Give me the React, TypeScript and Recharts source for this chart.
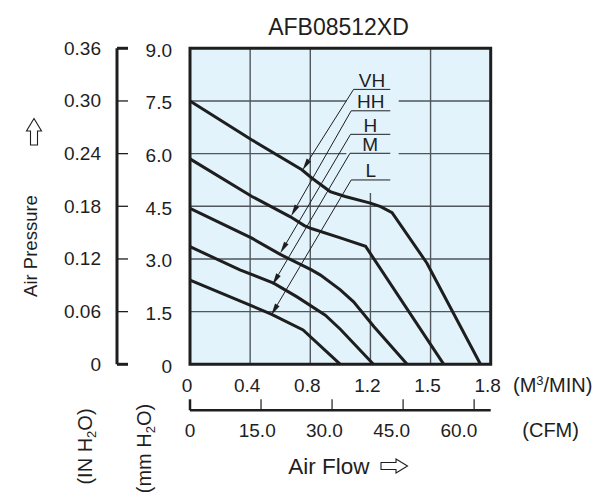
import React from 'react';
import { LineChart, Line, XAxis, YAxis, CartesianGrid, ReferenceArea, ReferenceLine } from 'recharts';

// x is the position along the M3/MIN scale in grid steps (0 .. 5), y is mm H2O
const curveVH: [number, number][] = [
  [0, 7.5], [1.03, 6.39], [1.86, 5.54], [2.03, 5.3], [2.33, 4.92], [2.58, 4.78],
  [3.0, 4.59], [3.17, 4.49], [3.36, 4.32], [3.94, 2.88], [4.83, 0],
];
const curveHH: [number, number][] = [
  [0, 5.85], [1.03, 4.78], [1.67, 4.2], [1.9, 3.95], [2.03, 3.86], [2.5, 3.6],
  [2.92, 3.36], [4.22, 0],
];
const curveH: [number, number][] = [
  [0, 4.44], [1.02, 3.6], [1.5, 3.13], [2.02, 2.69], [2.17, 2.54], [2.5, 2.12],
  [2.72, 1.78], [3.06, 1.07], [3.61, 0],
];
const curveM: [number, number][] = [
  [0, 3.35], [0.83, 2.69], [1.39, 2.31], [1.78, 1.92], [2.25, 1.4], [2.5, 1.0], [3.05, 0],
];
const curveL: [number, number][] = [
  [0, 2.4], [1.35, 1.43], [1.88, 0.98], [2.5, 0],
];
const curves = [curveVH, curveHH, curveH, curveM, curveL];

const flowTicks = [0, 1, 2, 3, 4, 5];
const flowLabels = ['0', '0.4', '0.8', '1.2', '1.5', '1.8'];
const cfmTicks = [0, 15, 30, 45, 60];
const cfmLabels = ['0', '15.0', '30.0', '45.0', '60.0'];
const mmTicks = [0, 1.5, 3, 4.5, 6, 7.5, 9];
const mmLabels = ['0', '1.5', '3.0', '4.5', '6.0', '7.5', '9.0'];
const inTicks = [0, 0.06, 0.12, 0.18, 0.24, 0.3, 0.36];
const inLabels = ['0', '0.06', '0.12', '0.18', '0.24', '0.30', '0.36'];

// speed labels: where each leader starts (left end of underline) and where its arrow points
const modeNames = ['VH', 'HH', 'H', 'M', 'L'];
const leaderStart: [number, number][] = [[2.72, 7.83], [2.68, 7.22], [2.67, 6.55], [2.66, 6.01], [2.68, 5.25]];
const leaderTip: [number, number][] = [[1.87, 5.53], [1.68, 4.22], [1.5, 3.16], [1.37, 2.26], [1.35, 1.4]];
const underlineEnd = 3.33;

// the CFM scale has no series of its own, so its ticks are fed as a hidden row
const cfmRow = cfmTicks.map((v) => ({ cfm: v, y: 0 }));

const INK = '#1e1e1e';
const BG = '#e3f3fb';
const FONT = '"Liberation Sans", Arial, sans-serif';

const FlowTick = (p: any) => (
  <text x={p.x} y={p.y + 27.5} dx={-3} textAnchor="middle" fontSize={19} fill={INK} fontFamily={FONT}>
    {flowLabels[p.index]}
  </text>
);

const CfmMarkTick = (p: any) => (
  <line x1={p.x} y1={p.y} x2={p.x} y2={p.y - 11} stroke={INK} strokeWidth={p.index === 0 ? 2.5 : 1.2} />
);

const CfmLabelTick = (p: any) => (
  <text x={p.x} y={p.y + 25.5} textAnchor="middle" fontSize={19} fill={INK} fontFamily={FONT}>
    {cfmLabels[p.index]}
  </text>
);

const MmTick = (p: any) => (
  <text x={p.x - 18} y={p.y + 8.5} textAnchor="end" fontSize={19} fill={INK} fontFamily={FONT}>
    {mmLabels[p.index]}
  </text>
);

const InTick = (p: any) => {
  const edge = p.index === 0 || p.index === inTicks.length - 1;
  return (
    <g>
      <line x1={p.x} y1={p.y} x2={p.x + 11} y2={p.y} stroke={INK} strokeWidth={edge ? 3 : 1.3} />
      <text x={p.x - 16} y={p.y + 6.5} textAnchor="end" fontSize={19} fill={INK} fontFamily={FONT}>
        {inLabels[p.index]}
      </text>
    </g>
  );
};

const ArrowLeader = (p: any) => {
  const { x1, y1, x2, y2 } = p;
  const ang = Math.atan2(y2 - y1, x2 - x1);
  const len = 12;
  const half = 2.6;
  const bx = x2 - len * Math.cos(ang);
  const by = y2 - len * Math.sin(ang);
  const nx = -Math.sin(ang) * half;
  const ny = Math.cos(ang) * half;
  return (
    <g>
      <line x1={x1} y1={y1} x2={bx} y2={by} stroke={INK} strokeWidth={1} />
      <polygon points={`${x2},${y2} ${bx + nx},${by + ny} ${bx - nx},${by - ny}`} fill={INK} />
    </g>
  );
};

// axis ids are ordered so the axes stack outward from the plot in this order
export default function App() {
  return (
    <div style={{ position: 'absolute', left: 0, top: 0, width: 601, height: 500, background: '#fff' }}>
      <LineChart width={601} height={500} margin={{ top: 48.3, right: 110.3, bottom: 48.7, left: 46 }}>
        <CartesianGrid xAxisId="x1" yAxisId="y1" stroke="#50565c" strokeWidth={1.4} fill={BG} fillOpacity={1} />
        <XAxis
          xAxisId="x1"
          type="number"
          dataKey="x"
          domain={[0, 5]}
          ticks={flowTicks}
          height={46}
          axisLine={false}
          tickLine={false}
          tickSize={0}
          tickMargin={0}
          tick={FlowTick}
        />
        <XAxis
          xAxisId="x2"
          type="number"
          dataKey="cfm"
          domain={[0, 63.5]}
          allowDataOverflow
          ticks={cfmTicks}
          interval={0}
          height={1}
          axisLine={{ stroke: INK, strokeWidth: 2.5 }}
          tickLine={false}
          tickSize={0}
          tickMargin={0}
          tick={CfmMarkTick}
        />
        <XAxis
          xAxisId="x3"
          type="number"
          dataKey="cfm"
          domain={[0, 67.1]}
          allowDataOverflow
          ticks={cfmTicks}
          interval={0}
          height={40}
          axisLine={false}
          tickLine={false}
          tickSize={0}
          tickMargin={0}
          tick={CfmLabelTick}
        />
        <YAxis
          yAxisId="y1"
          type="number"
          domain={[0, 9]}
          ticks={mmTicks}
          width={73}
          axisLine={false}
          tickLine={false}
          tickSize={0}
          tickMargin={0}
          tick={MmTick}
        />
        <YAxis
          yAxisId="y2"
          type="number"
          domain={[0, 0.36]}
          allowDataOverflow
          ticks={inTicks}
          width={71}
          axisLine={{ stroke: INK, strokeWidth: 3 }}
          tickLine={false}
          tickSize={0}
          tickMargin={0}
          tick={InTick}
        />
        <ReferenceArea xAxisId="x1" yAxisId="y1" x1={2.6} x2={3.47} y1={4.88} y2={9} fill={BG} fillOpacity={1} stroke="none" />
        <ReferenceArea xAxisId="x1" yAxisId="y1" x1={0} x2={5} y1={0} y2={9} fill="none" stroke={INK} strokeWidth={3} />
        <Line xAxisId="x2" yAxisId="y1" data={cfmRow} dataKey="y" stroke="none" dot={false} activeDot={false} isAnimationActive={false} />
        <Line xAxisId="x3" yAxisId="y1" data={cfmRow} dataKey="y" stroke="none" dot={false} activeDot={false} isAnimationActive={false} />
        {curves.map((c, i) => (
          <Line
            key={modeNames[i]}
            xAxisId="x1"
            yAxisId="y1"
            data={c.map(([x, y]) => ({ x, y }))}
            dataKey="y"
            type="linear"
            stroke={INK}
            strokeWidth={3}
            dot={false}
            activeDot={false}
            isAnimationActive={false}
          />
        ))}
        {modeNames.map((name, i) => (
          <ReferenceLine
            key={`u-${name}`}
            xAxisId="x1"
            yAxisId="y1"
            segment={[{ x: leaderStart[i][0], y: leaderStart[i][1] }, { x: underlineEnd, y: leaderStart[i][1] }]}
            stroke={INK}
            strokeWidth={1}
            label={{ value: name, position: 'top', offset: 2.5, fill: INK, fontSize: 19, fontFamily: FONT }}
          />
        ))}
        {modeNames.map((name, i) => (
          <ReferenceLine
            key={`a-${name}`}
            xAxisId="x1"
            yAxisId="y1"
            segment={[{ x: leaderStart[i][0], y: leaderStart[i][1] }, { x: leaderTip[i][0], y: leaderTip[i][1] }]}
            stroke={INK}
            shape={ArrowLeader}
          />
        ))}
      </LineChart>
      <svg width={601} height={500} style={{ position: 'absolute', left: 0, top: 0, pointerEvents: 'none' }} fontFamily={FONT} fill={INK}>
        <text x={338.5} y={35} textAnchor="middle" fontSize={23}>AFB08512XD</text>
        <text transform="translate(37,246) rotate(-90)" textAnchor="middle" fontSize={18.5}>Air Pressure</text>
        <polygon points="34,118.5 41.5,131 37.5,131 37.5,145 30.5,145 30.5,131 26.5,131" fill="#fff" stroke={INK} strokeWidth={1.1} />
        <text transform="translate(92,446.5) rotate(-90)" textAnchor="middle" fontSize={20}>
          (IN H<tspan fontSize={13} dy={4}>2</tspan><tspan dy={-4}>O)</tspan>
        </text>
        <text transform="translate(150.5,448.5) rotate(-90)" textAnchor="middle" fontSize={20}>
          (mm H<tspan fontSize={13} dy={4}>2</tspan><tspan dy={-4}>O)</tspan>
        </text>
        <text x={513} y={392} fontSize={20}>
          (M<tspan fontSize={13} dy={-7}>3</tspan><tspan dy={7}>/MIN)</tspan>
        </text>
        <text x={522.3} y={436.5} fontSize={20}>(CFM)</text>
        <text x={288.3} y={473.8} fontSize={22.5}>Air Flow</text>
        <polygon points="381,462.5 396,462.5 396,459 407.5,466 396,473 396,469.5 381,469.5" fill="#fff" stroke={INK} strokeWidth={1.1} />
      </svg>
    </div>
  );
}
